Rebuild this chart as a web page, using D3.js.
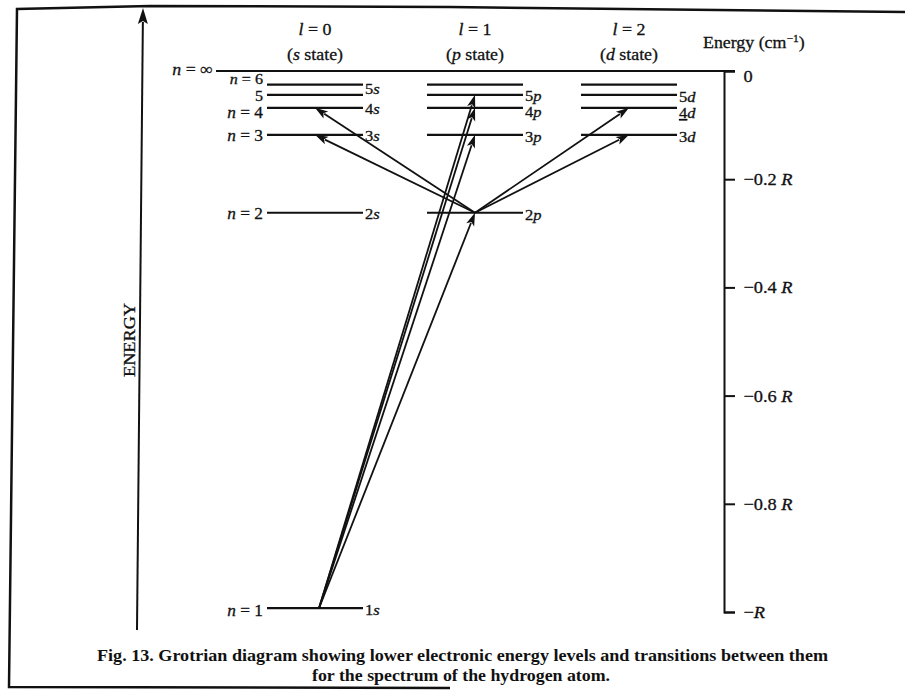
<!DOCTYPE html>
<html><head><meta charset="utf-8">
<script src="https://cdn.jsdelivr.net/npm/d3@7"></script>
<style>
body{margin:0;background:#fff;}
svg{display:block;font-family:"Liberation Serif","Times New Roman",serif;}
svg text{stroke:#111;stroke-width:0.3px;}
</style></head><body>
<svg id="chart" width="905" height="690"></svg>
<script>
// ---- data ----
const columns = ["s","p","d"];
const columnL = ["0","1","2"];
const columnMinN = [1,2,3];
const levelN = [1,2,3,4,5,6];
const levelEnergy = [-0.993,-0.262,-0.118,-0.068,-0.044,-0.025]; // in units of R
const taggedMaxN = 5;
const leftLabels = ["n = 1","n = 2","n = 3","n = 4","5","n = 6"];
const transitions = [["1s","2p"],["1s","3p"],["1s","4p"],["1s","5p"],["2p","3s"],["2p","4s"],["2p","3d"],["2p","4d"]];
const tickValues = [0,-0.2,-0.4,-0.6,-0.8,-1];
const tickLabels = ["0","−0.2 ","−0.4 ","−0.6 ","−0.8 ","−"];
const axisTitle = "Energy (cm";
const verticalTitle = "ENERGY";
const captionLines = ["Fig. 13. Grotrian diagram showing lower electronic energy levels and transitions between them",
                      "for the spectrum of the hydrogen atom."];

// ---- scales ----
const svg = d3.select("#chart");
const y = d3.scaleLinear().domain([-1,0]).range([612,71]);
const x = d3.scaleOrdinal().domain(columns).range([315,475,629]);
const halfW = 48;
const FS = 17, SX = 1.05;
const energyOf = n => levelEnergy[levelN.indexOf(n)];

function label(g, px, py, parts, opt={}) {
  const t = g.append("text")
    .attr("transform", `translate(${px},${py}) scale(${opt.sx||SX},1)`)
    .attr("font-size", opt.size||FS)
    .attr("text-anchor", opt.anchor||"start")
    .attr("dy", opt.dy===undefined ? "0.35em" : opt.dy)
    .attr("fill", "#111");
  parts.forEach(p => {
    const ts = t.append("tspan").text(p[0]);
    if (p[1]) ts.attr("font-style","italic");
    if (p[2]) ts.attr("text-decoration","underline");
  });
  return t;
}
function italN(s){ return s.startsWith("n") ? [["n",true],[s.slice(1),false]] : [[s,false]]; }

function arrow(g, x1,y1,x2,y2, head=13, hw=4.2, sw=1.8) {
  const dx=x2-x1, dy=y2-y1, L=Math.hypot(dx,dy), ux=dx/L, uy=dy/L;
  const bx=x2-ux*head, by=y2-uy*head;
  g.append("line").attr("x1",x1).attr("y1",y1).attr("x2",bx+ux*2).attr("y2",by+uy*2)
    .attr("stroke","#111").attr("stroke-width",sw);
  g.append("path").attr("d",`M${x2},${y2}L${bx-uy*hw},${by+ux*hw}L${bx+ux*3},${by+uy*3}L${bx+uy*hw},${by-ux*hw}Z`)
    .attr("fill","#111");
}

// ---- frame ----
svg.append("path").attr("d","M905,12L450,7L150,6L17,9L9,687L450,688")
  .attr("fill","none").attr("stroke","#111").attr("stroke-width",2.5);

// ---- vertical ENERGY arrow ----
const ea = svg.append("g");
arrow(ea, 137, 630, 143, 8, 16, 5, 2);
ea.append("text").attr("transform","translate(129,340) rotate(-90)")
  .attr("text-anchor","middle").attr("dy","0.35em").attr("font-size",16)
  .attr("textLength",74).attr("lengthAdjust","spacingAndGlyphs").attr("fill","#111").text(verticalTitle);

// ---- column headers ----
const hdr = svg.append("g");
columns.forEach((c,i) => {
  label(hdr, x(c), 29, [["l",true],[" = "+columnL[i],false]], {anchor:"middle"});
  label(hdr, x(c), 54, [["(",false],[c,true],[" state)",false]], {anchor:"middle"});
});

// ---- n = infinity line ----
svg.append("line").attr("x1",216).attr("x2",735).attr("y1",y(0)).attr("y2",y(0))
  .attr("stroke","#111").attr("stroke-width",2.2);
label(svg, 213, y(0)-2, [["n",true],[" = ∞",false]], {anchor:"end"});

// ---- left n labels ----
const leftOffset = [2,0,0,4,1,-5];
levelN.forEach((n,i) => label(svg, 263, y(levelEnergy[i])+leftOffset[i], italN(leftLabels[i]), {anchor:"end", size: n>=5?14:16.5, sx: n>=5?1.15:SX}));

// ---- levels ----
const lv = svg.append("g");
const tagOffset = {s:[2,1,1,1,-6], p:[0,2,2,4,1], d:[0,0,2,5,2]};
columns.forEach((c,ci) => {
  levelN.filter(n => n >= columnMinN[ci]).forEach(n => {
    const yy = y(energyOf(n));
    lv.append("line").attr("x1",x(c)-halfW).attr("x2",x(c)+halfW).attr("y1",yy).attr("y2",yy)
      .attr("stroke","#111").attr("stroke-width",2.2);
    if (n <= taggedMaxN) {
      label(lv, x(c)+halfW+2, yy+tagOffset[c][n-1], [[String(n),false,(n===4&&c==="d")],[c,true]], {size:15, sx:1.1});
    }
  });
});

// ---- transitions ----
const tr = svg.append("g");
const pos = st => [x(st.slice(-1)) + (st==="1s"?4:0), y(energyOf(+st.slice(0,-1)))];
transitions.forEach(([a,b]) => {
  const [x1,y1] = pos(a), [x2,y2] = pos(b);
  arrow(tr, x1, y1, x2, y2);
});

// ---- right axis ----
const ax = svg.append("g").attr("transform","translate(724,0)")
  .call(d3.axisRight(y).tickValues(tickValues).tickSize(11).tickSizeOuter(11).tickPadding(7)
        .tickFormat((d,i)=>tickLabels[i]));
ax.select(".domain").attr("stroke","#111").attr("stroke-width",2);
ax.selectAll(".tick line").attr("stroke","#111").attr("stroke-width",2);
ax.selectAll(".tick text").attr("font-size",FS).attr("font-family","Liberation Serif")
  .attr("fill","#111").attr("transform",`scale(1.08,1)`)
  .each(function(d,i){ if (i>0) d3.select(this).append("tspan").attr("font-style","italic").text("R"); });
ax.select(".tick text").attr("dy","0.6em");

// axis title
const at = label(svg, 703, 42, [[axisTitle,false]]);
at.append("tspan").attr("font-size",11).attr("dy",-6).text("−1");
at.append("tspan").attr("dy",6).text(")");

// ---- caption ----
svg.append("text").attr("x",97).attr("y",661).attr("font-size",16).attr("font-weight","bold")
  .attr("textLength",731).attr("lengthAdjust","spacingAndGlyphs").attr("fill","#111").style("stroke-width","0").text(captionLines[0]);
svg.append("text").attr("x",312).attr("y",681).attr("font-size",16).attr("font-weight","bold")
  .attr("textLength",298).attr("lengthAdjust","spacingAndGlyphs").attr("fill","#111").style("stroke-width","0").text(captionLines[1]);
</script>
</body></html>
